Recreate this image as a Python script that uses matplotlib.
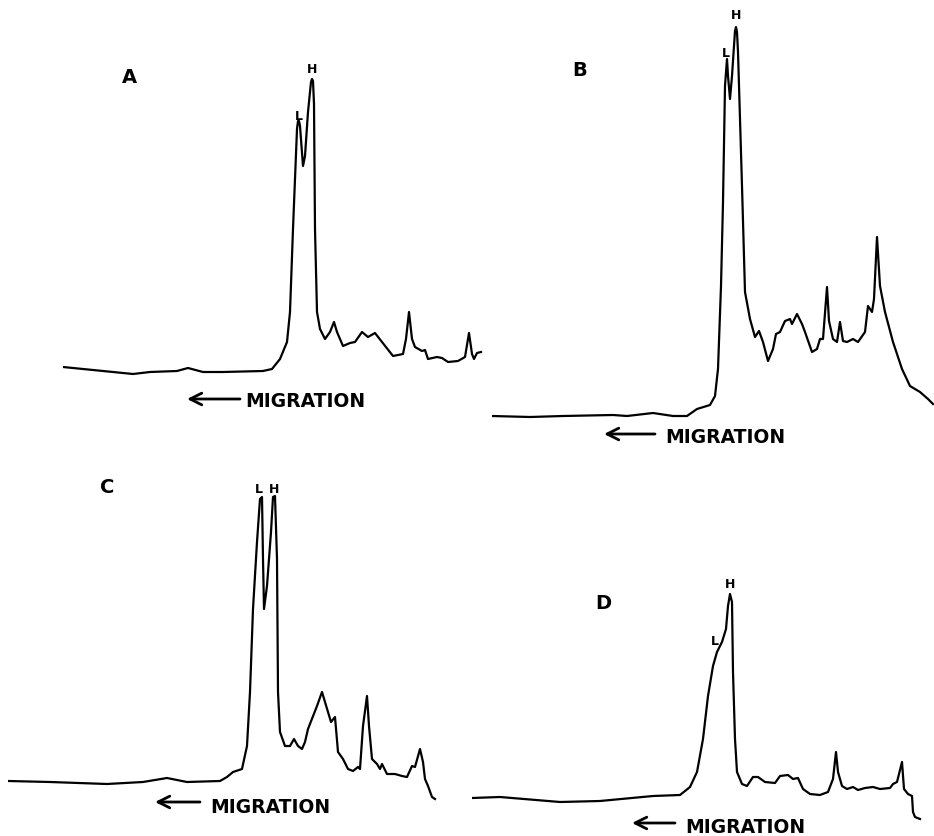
import matplotlib
matplotlib.use("Agg")
import matplotlib.pyplot as plt

# densitometer scans: distance along strip vs optical density
dist_a = [0, 20, 70, 87, 114, 125, 140, 160, 200, 209, 217, 224, 227, 230, 234, 235, 236, 237, 240, 242, 245,
          248, 249, 250, 251, 252, 254, 257, 262, 267, 271, 274, 280, 287, 292, 299, 305, 312, 319, 330, 340, 343, 346,
          349, 352, 359, 362, 365, 374, 379, 385, 395, 402, 406, 409, 411, 414, 418]
od_a = [7, 5, 0, 2, 3, 6, 2, 2, 3, 5, 15, 32, 62, 145, 245, 253, 253, 248, 208, 218, 262,
        292, 295, 293, 270, 145, 62, 45, 35, 42, 52, 42, 28, 31, 32, 42, 37, 41, 32, 18, 20, 35, 62,
        35, 27, 23, 24, 15, 17, 16, 12, 13, 17, 41, 20, 15, 21, 22]

dist_b = [0, 38, 71, 121, 135, 161, 181, 195, 205, 218, 223, 226, 229, 231, 233, 235, 236, 238, 240, 242,
          243, 244, 245, 246, 250, 253, 258, 263, 267, 271, 276, 281, 284, 288, 293, 298, 300, 305, 310, 313, 320, 325,
          328, 331, 335, 337, 341, 345, 348, 351, 355, 361, 366, 373, 376, 380, 382, 385, 388, 393, 401, 410,
          418, 428, 436, 441]
od_b = [1, 0, 1, 2, 1, 4, 1, 1, 8, 12, 21, 48, 131, 215, 331, 358, 341, 318, 341, 371,
        386, 390, 385, 365, 231, 125, 98, 80, 86, 75, 56, 68, 83, 85, 96, 98, 93, 103, 93, 85, 65, 68,
        78, 78, 130, 96, 78, 75, 95, 76, 75, 78, 75, 85, 111, 105, 118, 180, 131, 105, 75, 48,
        31, 25, 18, 13]

dist_c = [0, 42, 99, 135, 159, 179, 212, 219, 225, 234, 239, 242, 245, 249, 252, 254, 255, 256, 259, 263,
          265, 267, 269, 270, 272, 277, 282, 286, 290, 294, 297, 300, 309, 314, 320, 323, 327, 330, 335, 340,
          345, 350, 352, 355, 359, 361, 364, 369, 372, 374, 379, 387, 394, 399, 404, 407, 412, 415, 417, 420,
          424, 427]
od_c = [3, 2, 0, 2, 6, 2, 3, 7, 12, 15, 38, 92, 175, 242, 285, 287, 225, 175, 198, 252,
        287, 288, 225, 92, 52, 38, 38, 45, 38, 35, 42, 55, 78, 92, 72, 62, 67, 32, 25, 15,
        13, 17, 15, 58, 88, 58, 25, 20, 15, 20, 10, 10, 8, 7, 18, 17, 35, 22, 5, -2,
        -13, -15]

dist_d = [0, 28, 88, 128, 181, 208, 218, 225, 231, 236, 241, 245, 250, 254, 256, 258, 260, 261, 263, 265,
          270, 275, 281, 286, 293, 303, 308, 316, 321, 326, 331, 338, 348, 356, 361, 364, 366, 370, 375, 381,
          386, 393, 401, 408, 418, 421, 425, 430, 432, 436, 440, 441, 443, 448]
od_d = [4, 5, 0, 1, 6, 7, 15, 30, 63, 106, 136, 150, 160, 173, 196, 208, 200, 130, 63, 30,
        18, 16, 25, 25, 20, 19, 26, 27, 23, 24, 13, 8, 7, 10, 23, 50, 30, 16, 13, 15,
        12, 14, 15, 13, 14, 18, 20, 40, 13, 8, 6, -10, -15, -17]

W, H = 934, 837
fig = plt.figure(figsize=(W / 100, H / 100), dpi=100)

# one scan per panel: (data, left px, baseline px, x span, y range, panel letter, peak labels, migration label)
panels = [
    (dist_a, od_a, 63, 375, 430, (-40, 320), ("A", 66, 292), [("L", 235.5, 255), ("H", 249, 302)],
     (182, -32, 124, 177, -25)),
    (dist_b, od_b, 492, 418, 442, (-35, 415), ("B", 88, 342), [("L", 234, 361), ("H", 244, 399)],
     (173, -25, 112, 163, -17)),
    (dist_c, od_c, 8, 785, 430, (-35, 310), ("C", 99, 292), [("L", 251, 292), ("H", 266, 292)],
     (202, -28, 147, 192, -18)),
    (dist_d, od_d, 472, 803, 452, (-40, 240), ("D", 131, 194), [("L", 243, 158), ("H", 258.5, 215)],
     (213, -30, 160, 203, -21)),
]

for dist, od, x0, base, span, (ymin, ymax), letter, peaks, mig in panels:
    ax = fig.add_axes([x0 / W, (H - (base - ymin)) / H, span / W, (ymax - ymin) / H])
    ax.set_xlim(0, span)
    ax.set_ylim(ymin, ymax)
    ax.axis("off")
    ax.plot(dist, od, color="black", lw=1.6, solid_joinstyle="round")

    ax.text(letter[1], letter[2], letter[0], fontsize=14, fontweight="bold",
            ha="center", va="baseline")
    for lab, px, py in peaks:
        ax.text(px, py, lab, fontsize=9, fontweight="bold", ha="center", va="baseline")

    tx, ty, ax_tip, ax_tail, ay = mig
    ax.text(tx, ty, "MIGRATION", fontsize=13.5, fontweight="bold", ha="left", va="baseline",
            clip_on=False)
    ax.annotate("", xy=(ax_tip, ay), xytext=(ax_tail, ay), annotation_clip=False,
                arrowprops=dict(arrowstyle="->, head_length=0.6, head_width=0.3", color="black",
                                lw=2.0, mutation_scale=14, shrinkA=0, shrinkB=0))

fig.savefig("out.png", dpi=100)
